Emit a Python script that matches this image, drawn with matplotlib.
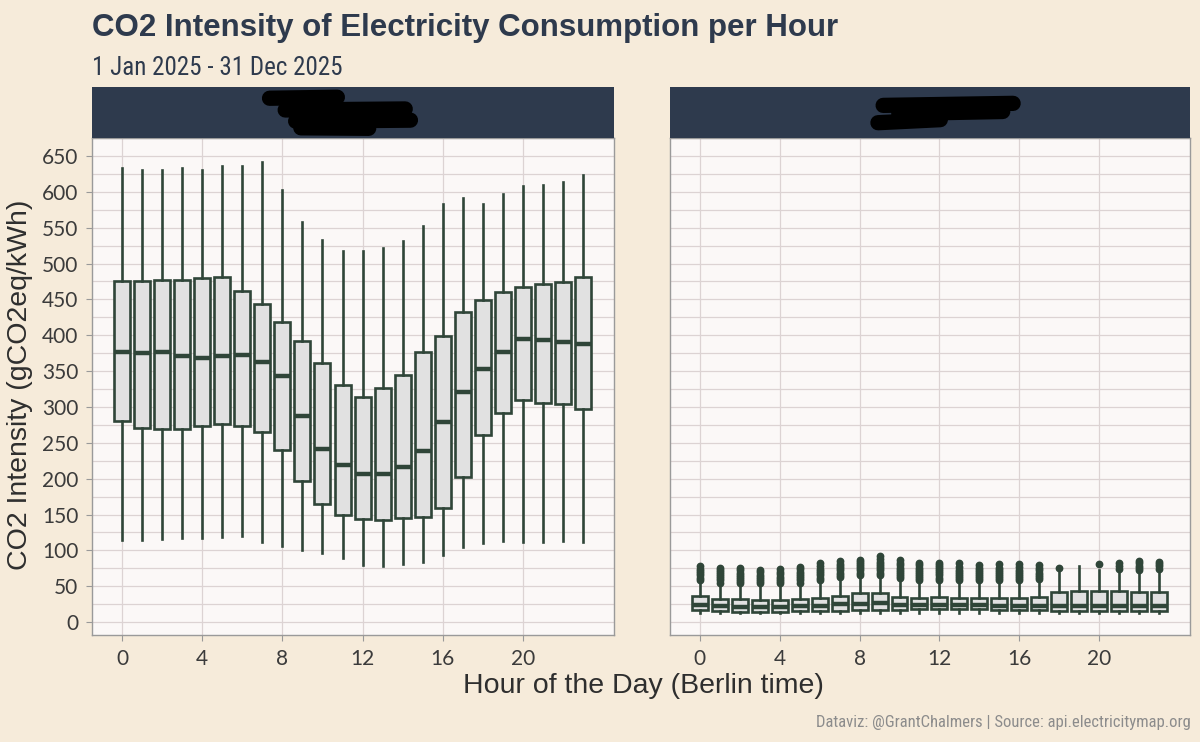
import matplotlib
matplotlib.use("Agg")
import matplotlib.pyplot as plt
from matplotlib import font_manager

# ---- data ----
hours = list(range(24))

# left panel
left_lo = [115, 115, 116, 117, 117, 119, 120, 112, 106, 101, 97, 89,
           79, 78, 81, 84, 94, 105, 110, 113, 112, 112, 113, 112]
left_q1 = [280, 271, 269, 269, 273, 276, 274, 265, 240, 197, 165, 149,
           144, 143, 145, 147, 159, 203, 261, 291, 309, 305, 304, 297]
left_med = [377, 375, 376, 371, 368, 371, 372, 362, 343, 287, 241, 219,
            207, 207, 216, 239, 279, 321, 353, 377, 395, 393, 390, 388]
left_q3 = [475, 475, 477, 477, 480, 481, 462, 444, 419, 392, 361, 330,
           314, 327, 345, 376, 399, 432, 449, 460, 467, 472, 474, 481]
left_hi = [633, 630, 631, 633, 630, 636, 636, 642, 602, 558, 533, 518,
           517, 522, 531, 552, 583, 591, 583, 597, 608, 609, 614, 623]

# right panel
right_lo = [13, 12, 12, 12, 12, 12, 12, 13, 13, 13, 13, 13,
            13, 13, 13, 13, 13, 13, 13, 13, 13, 13, 13, 13]
right_q1 = [17, 15, 14, 14, 14, 15, 15, 16, 17, 17, 17, 18,
            18, 18, 18, 17, 17, 17, 16, 16, 16, 16, 16, 16]
right_med = [24, 22, 21, 21, 21, 22, 23, 25, 25, 26, 24, 24,
             24, 24, 24, 23, 23, 23, 22, 23, 23, 23, 22, 22]
right_q3 = [36, 32, 32, 31, 31, 32, 34, 37, 40, 40, 35, 34,
            35, 34, 34, 33, 33, 35, 42, 44, 43, 43, 42, 42]
right_hi = [56, 52, 51, 51, 51, 52, 56, 60, 63, 63, 58, 55,
            56, 55, 55, 55, 55, 57, 70, 78, 72, 70, 68, 70]
right_out = [
    [59, 62, 65, 68, 71, 74, 78],
    [55, 58, 61, 64, 67, 70, 73, 76],
    [54, 57, 60, 63, 66, 69, 72, 76],
    [54, 57, 60, 63, 66, 70, 73],
    [54, 57, 60, 63, 67, 70, 74],
    [55, 58, 61, 64, 67, 70, 74, 77],
    [59, 62, 65, 68, 71, 74, 78, 82],
    [63, 66, 69, 72, 75, 78, 81, 85],
    [66, 69, 72, 75, 78, 81, 84, 87],
    [66, 69, 72, 75, 78, 81, 84, 88, 92],
    [61, 64, 67, 70, 73, 76, 80, 83, 87],
    [58, 61, 64, 67, 70, 73, 76, 80, 83],
    [59, 62, 65, 68, 71, 74, 77, 80, 83],
    [58, 61, 64, 67, 70, 73, 77, 82],
    [58, 61, 64, 67, 70, 73, 76, 79],
    [58, 61, 64, 67, 70, 73, 76, 81],
    [58, 61, 64, 67, 70, 73, 77, 81],
    [60, 63, 66, 69, 72, 75, 79],
    [76],
    [],
    [81],
    [74, 78, 82],
    [72, 75, 78, 82, 85],
    [74, 78, 81, 84],
]

y_ticks = list(range(0, 651, 50))
x_ticks = [0, 4, 8, 12, 16, 20]

title = "CO2 Intensity of Electricity Consumption per Hour"
subtitle = "1 Jan 2025 - 31 Dec 2025"
caption = "Dataviz: @GrantChalmers | Source: api.electricitymap.org"
xlabel = "Hour of the Day (Berlin time)"
ylabel = "CO2 Intensity (gCO2eq/kWh)"

# ---- style ----
BG = "#F6EBDA"
PANEL = "#FBF8F7"
GRID = "#DCD3D3"
STRIP = "#2E3A4D"
BOX_EDGE = "#2F4538"
BOX_FILL = "#E1E1E1"
TEXT = "#2E3A4D"


def pick_font(names):
    for n in names:
        try:
            font_manager.findfont(n, fallback_to_default=False)
            return n
        except ValueError:
            pass
    return "DejaVu Sans"


f_title = pick_font(["Liberation Sans", "Arial"])
f_narrow = pick_font(["Liberation Sans Narrow", "Roboto Condensed", "Open Sans"])
f_tick = pick_font(["Lato", "Open Sans"])


def make_stats(lo, q1, med, q3, hi, fliers=None):
    stats = []
    for i in range(len(med)):
        stats.append(dict(whislo=lo[i], q1=q1[i], med=med[i], q3=q3[i],
                          whishi=hi[i],
                          fliers=(fliers[i] if fliers else [])))
    return stats


fig = plt.figure(figsize=(12, 7.42), dpi=100, facecolor=BG)

ax_l = fig.add_axes([0.0767, 0.1442, 0.435, 0.6698])
ax_r = fig.add_axes([0.5583, 0.1442, 0.4333, 0.6698])
strip_l = fig.add_axes([0.0767, 0.8140, 0.435, 0.0687])
strip_r = fig.add_axes([0.5583, 0.8140, 0.4333, 0.0687])

panels = [
    (ax_l, make_stats(left_lo, left_q1, left_med, left_q3, left_hi)),
    (ax_r, make_stats(right_lo, right_q1, right_med, right_q3, right_hi, right_out)),
]

for ax, stats in panels:
    ax.set_facecolor(PANEL)
    ax.bxp(stats, positions=hours, widths=0.8, patch_artist=True,
           showfliers=True, manage_ticks=False,
           boxprops=dict(facecolor=BOX_FILL, edgecolor=BOX_EDGE, linewidth=1.9),
           whiskerprops=dict(color=BOX_EDGE, linewidth=1.9),
           capprops=dict(linewidth=0),
           medianprops=dict(color=BOX_EDGE, linewidth=3.2, solid_capstyle="butt"),
           flierprops=dict(marker="o", markersize=4.6, markerfacecolor=BOX_EDGE,
                           markeredgecolor=BOX_EDGE))
    ax.set_xlim(-1.5, 24.55)
    ax.set_ylim(-18, 672)
    ax.set_xticks(x_ticks)
    ax.set_yticks(y_ticks)
    ax.set_yticks([v + 25 for v in y_ticks], minor=True)
    ax.grid(True, which="major", color=GRID, linewidth=0.9)
    ax.grid(True, which="minor", axis="y", color=GRID, linewidth=0.9)
    ax.set_axisbelow(True)
    ax.tick_params(axis="both", which="major", length=4, width=0.8, color="#999999",
                   labelsize=15, labelcolor="#3b3b3b", pad=6)
    ax.tick_params(axis="both", which="minor", length=0)
    for lab in ax.get_xticklabels() + ax.get_yticklabels():
        lab.set_fontfamily(f_tick)
    for s in ax.spines.values():
        s.set_color("#9a9a9a")
        s.set_linewidth(1.0)

ax_r.tick_params(axis="y", labelleft=False, length=0)

# facet strips (labels are redacted in the reference)
for st, scribbles in [
    (strip_l, [((0.34, 0.78), (0.47, 0.80)), ((0.37, 0.55), (0.60, 0.57)),
               ((0.39, 0.33), (0.61, 0.35)), ((0.40, 0.20), (0.53, 0.19)),
               ((0.42, 0.45), (0.58, 0.45))]),
    (strip_r, [((0.41, 0.64), (0.66, 0.68)), ((0.40, 0.30), (0.52, 0.36)),
               ((0.44, 0.48), (0.64, 0.52))]),
]:
    st.set_facecolor(STRIP)
    st.set_xlim(0, 1)
    st.set_ylim(0, 1)
    st.set_xticks([])
    st.set_yticks([])
    for s in st.spines.values():
        s.set_visible(False)
    for (x0, y0), (x1, y1) in scribbles:
        st.plot([x0, x1], [y0, y1], color="black", linewidth=11,
                solid_capstyle="round")

# texts
fig.text(0.0767, 0.962, title, fontsize=22.5, fontweight="bold", color=TEXT,
         family=f_title, ha="left", va="center")
fig.text(0.0767, 0.909, subtitle, fontsize=18, color=TEXT,
         family=f_narrow, ha="left", va="center")
fig.text(0.536, 0.0755, xlabel, fontsize=20.5, color="#2e2e2e",
         family=f_title, ha="center", va="center")
fig.text(0.017, 0.482, ylabel, fontsize=20.5, color="#2e2e2e",
         family=f_title, ha="center", va="center", rotation=90)
fig.text(0.992, 0.026, caption, fontsize=12, color="#8c8c8c",
         family=f_narrow, ha="right", va="center")

fig.savefig("out.png", dpi=100, facecolor=BG)
